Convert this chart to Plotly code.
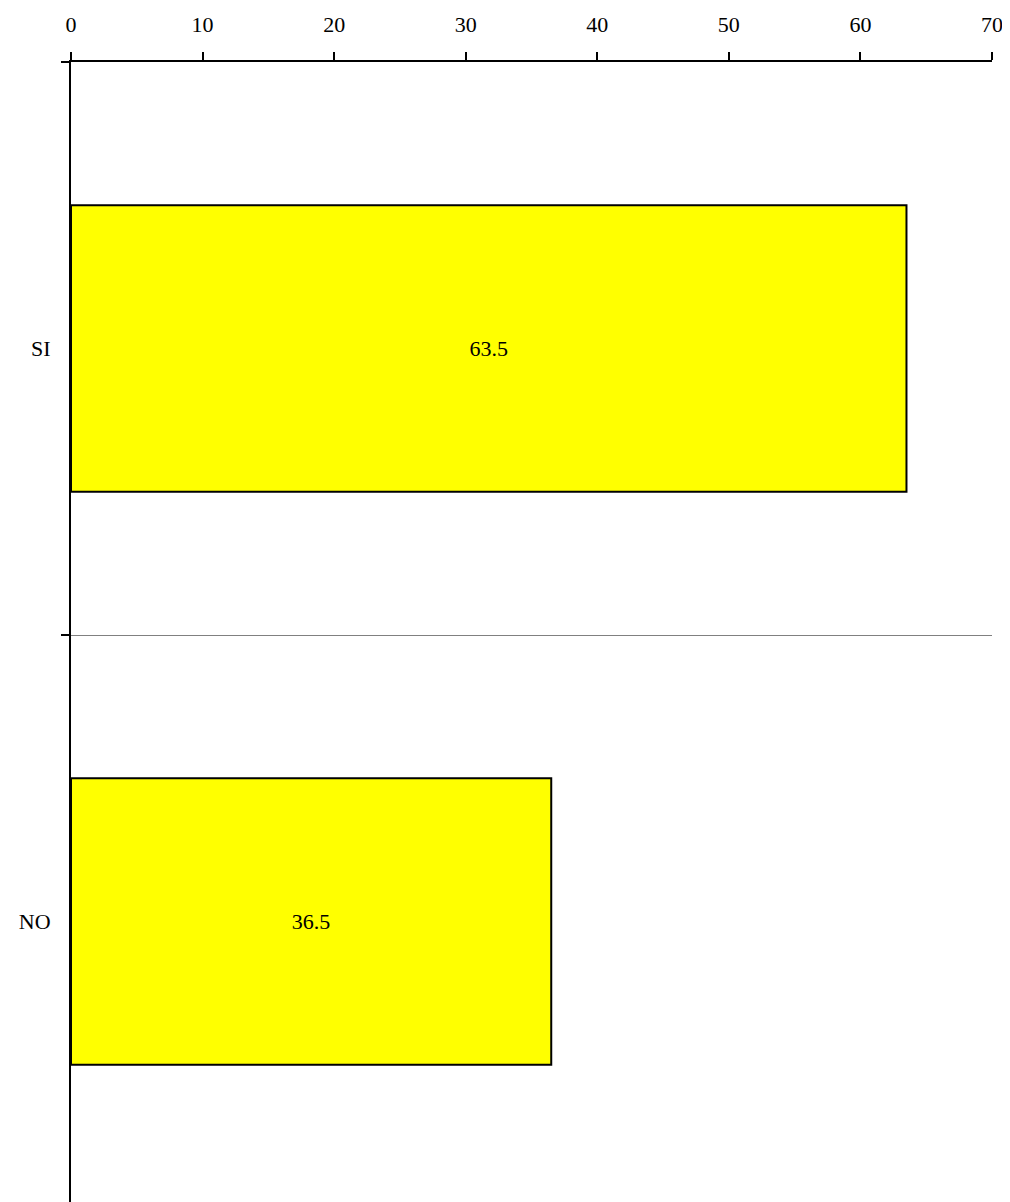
import plotly.graph_objects as go

categories = ["SI", "NO"]
values = [63.5, 36.5]
value_labels = ["63.5", "36.5"]
x_ticks = [0, 10, 20, 30, 40, 50, 60, 70]

FONT = "Liberation Serif, Times New Roman, serif"

fig = go.Figure(
    go.Bar(
        y=categories,
        x=values,
        orientation="h",
        width=0.5,
        marker=dict(color="#FFFF00", line=dict(color="black", width=2)),
        text=value_labels,
        textposition="inside",
        insidetextanchor="middle",
        textfont=dict(family=FONT, size=22, color="black"),
        hoverinfo="skip",
    )
)

fig.update_layout(
    width=994,
    height=1194,
    margin=dict(l=63, r=10, t=54, b=0, pad=0),
    plot_bgcolor="white",
    paper_bgcolor="white",
    showlegend=False,
    font=dict(family=FONT, size=22, color="black"),
    xaxis=dict(
        side="top",
        range=[0, 70],
        tickvals=x_ticks,
        ticktext=[str(v) for v in x_ticks],
        ticks="outside",
        ticklen=8,
        tickwidth=2,
        tickcolor="black",
        showline=True,
        linecolor="black",
        linewidth=2,
        showgrid=False,
        zeroline=False,
        ticklabelstandoff=11,
        ticklabeloverflow="allow",
        tickfont=dict(family=FONT, size=22, color="black"),
    ),
    yaxis=dict(
        type="category",
        categoryorder="array",
        categoryarray=categories,
        range=[1.4895, -0.5],
        tickson="boundaries",
        ticks="outside",
        ticklen=8,
        tickwidth=2,
        tickcolor="black",
        showline=True,
        linecolor="black",
        linewidth=2,
        showgrid=True,
        gridcolor="#808080",
        gridwidth=1,
        zeroline=False,
        ticklabelstandoff=14,
        tickfont=dict(family=FONT, size=22, color="black"),
    ),
)

fig.write_html("out.html")
